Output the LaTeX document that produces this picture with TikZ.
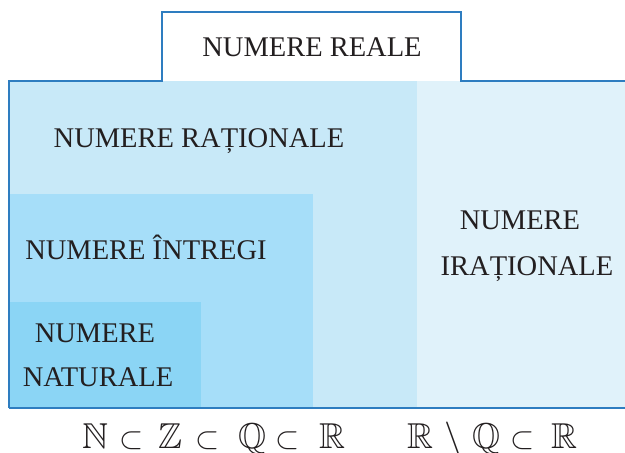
\documentclass[tikz,border=0pt]{standalone}
\usepackage{fix-cm}
\usepackage{amssymb}
\usepackage{fontspec}
\setmainfont{Liberation Serif}
\definecolor{frameblue}{RGB}{46,125,192}
\definecolor{ratfill}{RGB}{200,233,248}
\definecolor{irrfill}{RGB}{224,242,250}
\definecolor{intfill}{RGB}{166,222,249}
\definecolor{natfill}{RGB}{139,213,245}
\definecolor{inkgray}{RGB}{35,31,32}
\begin{document}
\begin{tikzpicture}[x=1pt,y=-1pt,
  setlabel/.style={anchor=base,inner sep=0pt,text=inkgray,
    font=\fontsize{28.5}{34}\selectfont},
  symb/.style={anchor=base,inner sep=0pt,text=inkgray,
    font=\fontsize{36}{40}\selectfont},
  rel/.style={anchor=base,inner sep=0pt,text=inkgray,
    font=\fontsize{31}{36}\selectfont},
  minus/.style={anchor=base,inner sep=0pt,text=inkgray,
    font=\fontsize{38}{42}\selectfont}]
\useasboundingbox (0,0) rectangle (625,453);

% nested regions
\fill[ratfill] (9,81) rectangle (417,408);
\fill[irrfill] (417,81) rectangle (625,408);
\fill[intfill] (9,194) rectangle (313,408);
\fill[natfill] (9,302) rectangle (201,408);

% outer frame with the title tab
\draw[frameblue,line width=1.6pt,line join=miter]
  (9,408) -- (9,81) -- (162,81) -- (162,12) -- (461,12) -- (461,81) -- (625,81);
\draw[frameblue,line width=1.6pt] (9,408) -- (625,408);

% labels
\node[setlabel] (reale) at (312,56) {NUMERE REALE};
\node[setlabel] (rational) at (199,147) {NUMERE RAȚIONALE};
\node[setlabel] (integer) at (146,259) {NUMERE ÎNTREGI};
\node[setlabel] (natA) at (95,342) {NUMERE};
\node[setlabel] (natB) at (98,386) {NATURALE};
\node[setlabel] (irrA) at (520,229) {NUMERE};
\node[setlabel] (irrB) at (527,275) {IRAȚIONALE};

% inclusion chain N < Z < Q < R
\node[symb] (nN) at (95,448) {$\mathbb{N}$};
\node[rel]  (s1) at (132,448) {$\subset$};
\node[symb] (nZ) at (170,448) {$\mathbb{Z}$};
\node[rel]  (s2) at (208,448) {$\subset$};
\node[symb] (nQ) at (252,448) {$\mathbb{Q}$};
\node[rel]  (s3) at (288,448) {$\subset$};
\node[symb] (nR) at (332,448) {$\mathbb{R}$};

% irrationals inside the reals
\node[symb]  (mR) at (420,448) {$\mathbb{R}$};
\node[minus] (mm) at (454,450) {$\setminus$};
\node[symb]  (mQ) at (486,448) {$\mathbb{Q}$};
\node[rel]   (s4) at (523,448) {$\subset$};
\node[symb]  (mR2) at (564,448) {$\mathbb{R}$};
\end{tikzpicture}
\end{document}
